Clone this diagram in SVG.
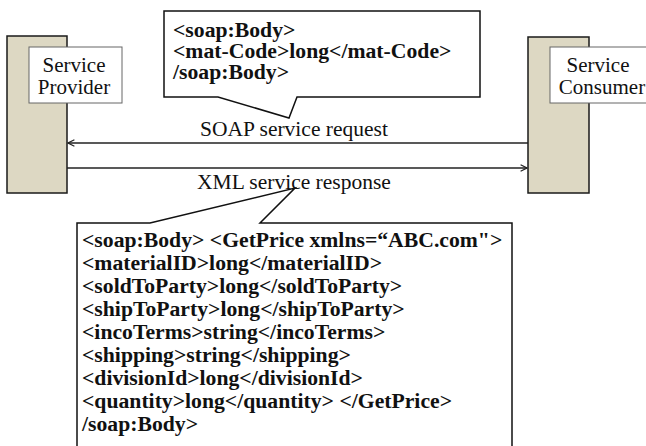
<svg xmlns="http://www.w3.org/2000/svg" width="646" height="446" viewBox="0 0 646 446">
<defs>
<style>
.bar{fill:#DDD8C3;stroke:#1a1a1a;stroke-width:1.5}
.lbl{fill:#fff;stroke:#666;stroke-width:1}
.lt{font-family:"Liberation Serif","Times New Roman",serif;font-size:21px;fill:#111;text-anchor:middle}
.call{fill:#fff;stroke:#111;stroke-width:1.5;stroke-linejoin:miter}
.ct{font-family:"Liberation Serif","Times New Roman",serif;font-size:20px;font-weight:bold;fill:#111}
.msg{font-family:"Liberation Serif","Times New Roman",serif;font-size:21.5px;fill:#111}
.conn{stroke:#222;stroke-width:1.5;fill:none}
</style>
<marker id="arr" viewBox="0 0 10 10" refX="9" refY="5" markerWidth="8" markerHeight="8" markerUnits="userSpaceOnUse" orient="auto">
<path d="M1,1 L9,5 L1,9" fill="none" stroke="#222" stroke-width="1.5"/>
</marker>
</defs>
<g id="provider">
<rect class="bar" x="7" y="36" width="60" height="157"/>
<rect class="lbl" x="29" y="47" width="93" height="56"/>
<text class="lt" x="74" y="72">Service</text>
<text class="lt" x="74" y="94">Provider</text>
</g>
<g id="consumer">
<rect class="bar" x="528" y="37" width="61" height="156"/>
<rect class="lbl" x="550" y="47" width="100" height="56"/>
<text class="lt" x="598" y="72">Service</text>
<text class="lt" x="602" y="94">Consumer</text>
</g>
<g id="connectors">
<line class="conn" x1="528" y1="143" x2="68" y2="143" marker-end="url(#arr)"/>
<line class="conn" x1="67" y1="168" x2="527" y2="168" marker-end="url(#arr)"/>
<text class="msg" x="200" y="136">SOAP service request</text>
<text class="msg" x="197" y="189">XML service response</text>
</g>
<g id="request-callout">
<path class="call" d="M164,11 L480,11 L480,97 L297,97 L289,118 L218,97 L164,97 Z"/>
<g transform="translate(173,0) scale(1.085,1) translate(-173,0)">
<text class="ct" x="173" y="37">&lt;soap:Body&gt;</text>
<text class="ct" x="173" y="58">&lt;mat-Code&gt;long&lt;/mat-Code&gt;</text>
<text class="ct" x="173" y="79">/soap:Body&gt;</text>
</g>
</g>
<g id="response-callout">
<path class="call" d="M77,223 L150,223 L295,188 L260,223 L512,223 L512,452 L77,452 Z"/>
<g transform="translate(82,0) scale(1.085,1) translate(-82,0)">
<text class="ct" x="82" y="247">&lt;soap:Body&gt; &lt;GetPrice xmlns=“ABC.com"&gt;</text>
<text class="ct" x="82" y="270">&lt;materialID&gt;long&lt;/materialID&gt;</text>
<text class="ct" x="82" y="293">&lt;soldToParty&gt;long&lt;/soldToParty&gt;</text>
<text class="ct" x="82" y="316">&lt;shipToParty&gt;long&lt;/shipToParty&gt;</text>
<text class="ct" x="82" y="339">&lt;incoTerms&gt;string&lt;/incoTerms&gt;</text>
<text class="ct" x="82" y="362">&lt;shipping&gt;string&lt;/shipping&gt;</text>
<text class="ct" x="82" y="385">&lt;divisionId&gt;long&lt;/divisionId&gt;</text>
<text class="ct" x="82" y="408">&lt;quantity&gt;long&lt;/quantity&gt; &lt;/GetPrice&gt;</text>
<text class="ct" x="82" y="431">/soap:Body&gt;</text>
</g>
</g>
</svg>
